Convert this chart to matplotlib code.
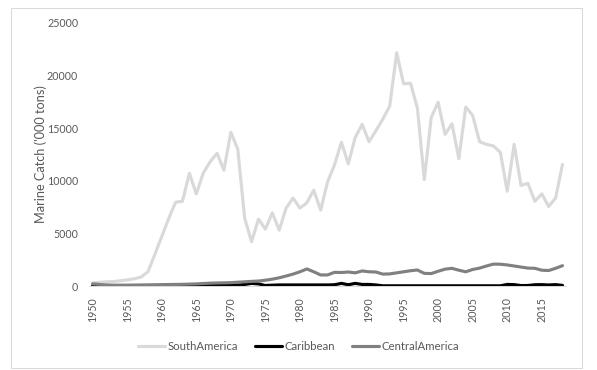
import matplotlib
matplotlib.use("Agg")
import matplotlib.pyplot as plt
from matplotlib.patches import Rectangle

years = list(range(1950, 2019))

south_america = [300, 350, 400, 420, 500, 580, 680, 850, 1350, 3000,
                 4700, 6400, 7950, 8050, 10700, 8750, 10700, 11800, 12600, 11000,
                 14600, 13000, 6450, 4200, 6350, 5400, 6950, 5300, 7400, 8350,
                 7400, 7900, 9100, 7200, 9900, 11500, 13650, 11600, 14100, 15350,
                 13700, 14750, 15850, 17100, 22150, 19200, 19250, 16900, 10100, 16000,
                 17450, 14400, 15400, 12100, 17000, 16200, 13700, 13450, 13300, 12700,
                 9000, 13450, 9550, 9750, 8050, 8750, 7550, 8350, 11550]

caribbean = [30, 30, 30, 30, 30, 30, 30, 30, 30, 30,
             60, 60, 60, 60, 60, 60, 60, 60, 60, 60,
             80, 100, 150, 250, 200, 50, 80, 100, 100, 100,
             100, 100, 100, 100, 100, 120, 250, 120, 250, 150,
             150, 100, 20, 20, 20, 20, 20, 20, 20, 20,
             20, 20, 20, 20, 20, 20, 20, 20, 20, 20,
             150, 130, 40, 50, 120, 130, 100, 130, 60]

central_america = [200, 150, 100, 80, 80, 80, 90, 100, 110, 120,
                   130, 140, 150, 160, 180, 200, 240, 270, 290, 300,
                   320, 360, 400, 440, 470, 550, 650, 780, 950, 1130,
                   1350, 1620, 1350, 1050, 1050, 1300, 1280, 1330, 1250, 1430,
                   1350, 1330, 1130, 1150, 1250, 1350, 1450, 1520, 1200, 1180,
                   1400, 1600, 1680, 1500, 1350, 1570, 1700, 1900, 2080, 2070,
                   2000, 1900, 1800, 1700, 1680, 1500, 1470, 1680, 1930]

series_names = ["SouthAmerica", "Caribbean", "CentralAmerica"]
y_ticks = [0, 5000, 10000, 15000, 20000, 25000]
x_ticks = list(range(1950, 2019, 5))

plt.rcParams['font.family'] = ['Lato', 'DejaVu Sans']
text_color = "#595959"

fig = plt.figure(figsize=(5.97, 3.70), dpi=100)
ax = fig.add_axes([0.1494, 0.227, 0.7986, 0.7116])

kw = dict(linewidth=2.25, solid_joinstyle='round', solid_capstyle='round')
ax.plot(years, south_america, color="#d9d9d9", label=series_names[0], **kw)
ax.plot(years, caribbean, color="#000000", label=series_names[1], **kw)
ax.plot(years, central_america, color="#808080", label=series_names[2], **kw)

ax.set_xlim(1949.5, 2018.5)
ax.set_ylim(0, 25000)
ax.set_yticks(y_ticks)
ax.set_yticklabels([str(v) for v in y_ticks])
ax.set_xticks(x_ticks)
ax.set_xticklabels([str(v) for v in x_ticks], rotation=90)
ax.tick_params(axis='both', length=0, labelsize=7.7, colors=text_color)
ax.tick_params(axis='y', pad=8)
ax.tick_params(axis='x', pad=8)

for side in ["top", "right", "left"]:
    ax.spines[side].set_visible(False)
ax.spines["bottom"].set_color("#d9d9d9")
ax.spines["bottom"].set_linewidth(0.75)

ax.set_ylabel("Marine Catch ('000 tons)", fontsize=9.2, color=text_color)
ax.yaxis.set_label_coords(-0.088, 0.5)

leg = fig.legend(loc="center", bbox_to_anchor=(0.5, 1 - 346.6 / 370), ncol=3,
                 frameon=False, fontsize=8.2, handlelength=2.4, columnspacing=1.5,
                 handletextpad=0.2)
for t in leg.get_texts():
    t.set_color(text_color)

fig.patches.append(Rectangle((11 / 597, 1 - 368 / 370), 571 / 597, 360 / 370,
                             transform=fig.transFigure, fill=False,
                             edgecolor="#d9d9d9", linewidth=0.75))

fig.savefig("out.png", dpi=100, facecolor="white")
